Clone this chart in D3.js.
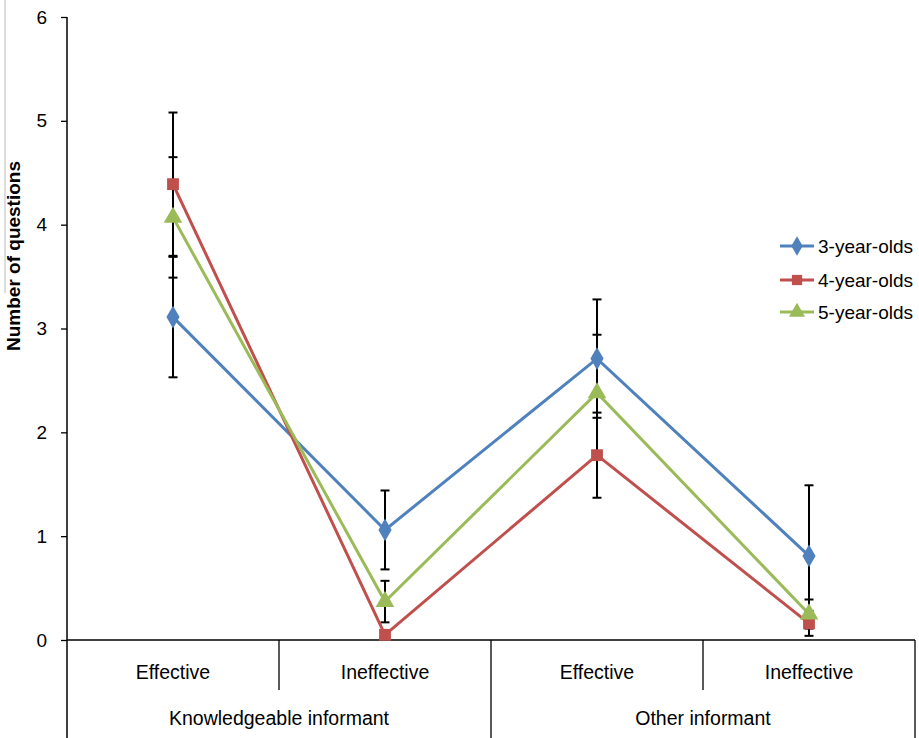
<!DOCTYPE html>
<html>
<head>
<meta charset="utf-8">
<script src="https://cdn.jsdelivr.net/npm/d3@7"></script>
<style>
  body { margin: 0; background: #fff; }
  text { font-family: Arial, "Liberation Sans", sans-serif; fill: #000; }
</style>
</head>
<body>
<div id="chart"></div>
<script>
// data
var categories = ["Effective", "Ineffective", "Effective", "Ineffective"];
var groups = ["Knowledgeable informant", "Other informant"];
var seriesNames = ["3-year-olds", "4-year-olds", "5-year-olds"];
var yTicks = [0, 1, 2, 3, 4, 5, 6];

var means3 = [3.11, 1.06, 2.71, 0.81],
    err3   = [0.58, 0.38, 0.57, 0.68];
var means4 = [4.39, 0.05, 1.78, 0.16],
    err4   = [0.69, 0.04, 0.41, 0.12];
var means5 = [4.07, 0.37, 2.38, 0.25],
    err5   = [0.58, 0.20, 0.56, 0.14];

var colors = ["#4F81BD", "#C0504D", "#9BBB59"];
var symbols = [d3.symbolDiamond, d3.symbolSquare, d3.symbolTriangle];
var symSize = [150, 140, 150];

var width = 919, height = 738;
var plotLeft = 67, plotRight = 915, plotTop = 17, plotBottom = 640;

var svg = d3.select("#chart").append("svg")
    .attr("width", width)
    .attr("height", height);

// Scales
var x = d3.scaleBand()
    .domain(d3.range(categories.length))
    .range([plotLeft, plotRight]);

var y = d3.scaleLinear()
    .domain([0, 6])
    .range([plotBottom, plotTop]);

// stray border line at left edge
svg.append("line")
  .attr("x1", 5).attr("x2", 5).attr("y1", 0).attr("y2", 293)
  .attr("stroke", "#bbb").attr("stroke-width", 1);

// Y axis
var yAxis = d3.axisLeft(y).tickValues(yTicks).tickFormat(d3.format("d")).tickSize(6).tickPadding(14);
var gy = svg.append("g")
    .attr("transform", translate(plotLeft, 0))
    .call(yAxis);
gy.select(".domain").remove();
gy.selectAll("line").attr("stroke", "#000").attr("stroke-width", 1.3);
gy.selectAll("text").style("font-size", "19px").style("font-family", "Arial, 'Liberation Sans', sans-serif");

svg.append("line")
  .attr("x1", plotLeft).attr("x2", plotLeft)
  .attr("y1", plotTop).attr("y2", height)
  .attr("stroke", "#000").attr("stroke-width", 1.5);

// Y title
svg.append("text")
  .attr("transform", translate(20, 256) + " rotate(-90)")
  .attr("text-anchor", "middle")
  .style("font-size", "19px")
  .style("font-weight", "bold")
  .text("Number of questions");

// X axis line and category separators
svg.append("line")
  .attr("x1", plotLeft).attr("x2", plotRight)
  .attr("y1", plotBottom).attr("y2", plotBottom)
  .attr("stroke", "#000").attr("stroke-width", 1.5);

var seps = d3.range(1, categories.length + 1);
svg.selectAll(".sep")
  .data(seps)
  .enter().append("line")
    .attr("class", "sep")
    .attr("x1", function(d){ return x(d - 1) + x.bandwidth(); })
    .attr("x2", function(d){ return x(d - 1) + x.bandwidth(); })
    .attr("y1", plotBottom)
    .attr("y2", function(d){ return d % 2 === 0 ? height : 690; })
    .attr("stroke", "#000").attr("stroke-width", 1.3);

svg.selectAll(".cat")
  .data(categories)
  .enter().append("text")
    .attr("class", "cat")
    .attr("x", function(d, i){ return x(i) + x.bandwidth() / 2; })
    .attr("y", 679)
    .attr("text-anchor", "middle")
    .style("font-size", "19.5px")
    .text(function(d){ return d; });

svg.selectAll(".grp")
  .data(groups)
  .enter().append("text")
    .attr("class", "grp")
    .attr("x", function(d, i){ return x(i * 2) + x.bandwidth(); })
    .attr("y", 725)
    .attr("text-anchor", "middle")
    .style("font-size", "19.5px")
    .text(function(d){ return d; });

// series
var series = [
  { name: seriesNames[0], means: means3, err: err3 },
  { name: seriesNames[1], means: means4, err: err4 },
  { name: seriesNames[2], means: means5, err: err5 }
];

function cx(i){ return x(i) + x.bandwidth() / 2; }

// error bars first, markers sit on top
series.forEach(function(s){
  var g = svg.append("g");
  s.means.forEach(function(m, i){
    var lo = y(m - s.err[i]), hi = y(m + s.err[i]), px = cx(i);
    g.append("line").attr("x1", px).attr("x2", px).attr("y1", lo).attr("y2", hi)
      .attr("stroke", "#000").attr("stroke-width", 2);
    [lo, hi].forEach(function(v){
      g.append("line").attr("x1", px - 4.5).attr("x2", px + 4.5).attr("y1", v).attr("y2", v)
        .attr("stroke", "#000").attr("stroke-width", 2);
    });
  });
});

var line = d3.line()
  .x(function(d, i){ return cx(i); })
  .y(function(d){ return y(d); });

series.forEach(function(s, k){
  svg.append("path")
    .datum(s.means)
    .attr("d", line)
    .attr("fill", "none")
    .attr("stroke", colors[k])
    .attr("stroke-width", 3);

  svg.selectAll(".mk" + k)
    .data(s.means)
    .enter().append("path")
      .attr("class", "mk" + k)
      .attr("transform", function(d, i){ return translate(cx(i), y(d)); })
      .attr("d", d3.symbol().type(symbols[k]).size(symSize[k]))
      .attr("fill", colors[k]);
});

// legend
var legend = svg.append("g").attr("transform", translate(780, 0));
var legendY = [246, 280, 312];
seriesNames.forEach(function(n, k){
  var ly = legendY[k];
  legend.append("line")
    .attr("x1", 0).attr("x2", 34).attr("y1", ly).attr("y2", ly)
    .attr("stroke", colors[k]).attr("stroke-width", 3);
  legend.append("path")
    .attr("transform", translate(17, ly))
    .attr("d", d3.symbol().type(symbols[k]).size(symSize[k] * 0.75))
    .attr("fill", colors[k]);
  legend.append("text")
    .attr("x", 38).attr("y", ly + 7)
    .style("font-size", "19px")
    .text(n);
});

function translate(a, b){
  return "translate(" + a + "," + b + ")";
}
</script>
</body>
</html>
